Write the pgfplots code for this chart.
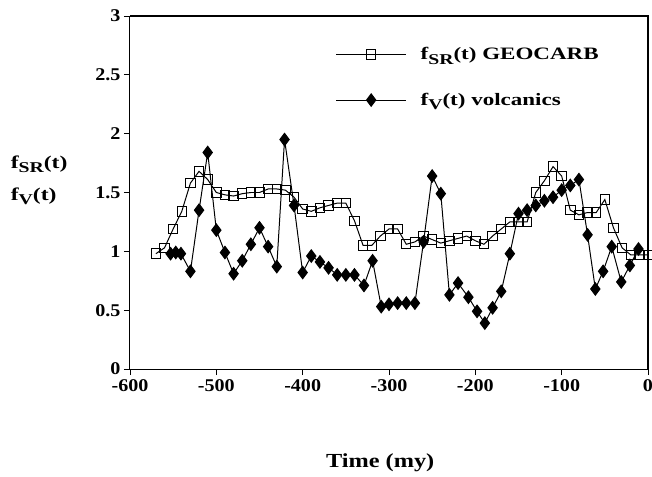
\documentclass[border=0pt]{standalone}
\usepackage{fontspec}
\setmainfont{Liberation Serif}
\newfontfamily\tickfont{Liberation Serif}[FakeStretch=1.12]
\newfontfamily\legfont{Liberation Serif}[FakeStretch=1.32]
\newfontfamily\labfont{Liberation Serif}[FakeStretch=1.22]
\newcommand{\sub}[1]{\raisebox{-4.5bp}{\fontsize{15}{15}\selectfont #1}}
\usepackage{pgfplots}
\pgfplotsset{compat=1.18}
\begin{document}
\begin{tikzpicture}
\begin{axis}[
  at={(0,0)}, anchor=south west,
  scale only axis, width=518bp, height=353bp,
  xmin=-600, xmax=0, ymin=0, ymax=3,
  xtick={-600,-500,-400,-300,-200,-100,0},
  xticklabels={-600,-500,-400,-300,-200,-100,0},
  ytick={0,0.5,1,1.5,2,2.5,3},
  yticklabels={0,0.5,1,1.5,2,2.5,3},
  tick align=outside, xtick pos=bottom, ytick pos=left,
  major tick length=6bp,
  tick style={black, line width=0.8pt},
  axis line style={black, line width=1pt},
  tick label style={font=\tickfont\fontsize{18}{18}\selectfont\bfseries},
  xticklabel style={yshift=-1bp},
  xlabel={Time (my)},
  xlabel style={font=\labfont\fontsize{20}{20}\selectfont\bfseries, at={(axis description cs:0.483,-0.266)}, anchor=center},
  ylabel={f\sub{SR}(t)\\f\sub{V}(t)},
  ylabel style={font=\legfont\fontsize{18}{32}\selectfont\bfseries, rotate=-90, align=left, at={(axis description cs:-0.237,0.535)}, anchor=west},
  legend style={draw=none, fill=none, at={(axis cs:-362,2.48)}, anchor=west, font=\legfont\fontsize{17.5}{17.5}\selectfont\bfseries, row sep=28bp, inner sep=0pt,
    /tikz/every odd column/.append style={column sep=12bp}},
  legend cell align=left,
  legend image code/.code={\draw[#1, mark repeat=2, mark phase=2] plot coordinates {(0bp,0bp) (35bp,0bp) (70bp,0bp)};},
]
\addplot[black, line width=1pt, mark=square, mark size=4.7bp, mark options={fill=white, solid, line width=1pt}] coordinates {
(-570,0.98) (-560,1.03) (-550,1.19) (-540,1.34) (-530,1.58) (-520,1.68) (-510,1.61)
(-500,1.50) (-490,1.48) (-480,1.47) (-470,1.49) (-460,1.50) (-450,1.50) (-440,1.53)
(-430,1.53) (-420,1.52) (-410,1.46) (-400,1.36) (-390,1.34) (-380,1.37) (-370,1.39)
(-360,1.41) (-350,1.41) (-340,1.26) (-330,1.05) (-320,1.05) (-310,1.13) (-300,1.19)
(-290,1.19) (-280,1.06) (-270,1.08) (-260,1.13) (-250,1.10) (-240,1.07) (-230,1.09)
(-220,1.11) (-210,1.13) (-200,1.09) (-190,1.06) (-180,1.13) (-170,1.19) (-160,1.25)
(-150,1.25) (-140,1.25) (-130,1.50) (-120,1.60) (-110,1.72) (-100,1.64) (-90,1.35)
(-80,1.31) (-70,1.33) (-60,1.33) (-50,1.44) (-40,1.20) (-30,1.03) (-20,0.97)
(-10,0.97) (0,0.97)
};
\addlegendentry{f\sub{SR}(t) GEOCARB}
\addplot[black, line width=1pt, mark=diamond*, mark size=6.2bp, mark options={fill=black, solid}] coordinates {
(-553,0.98) (-547,0.99) (-541,0.98) (-530,0.83) (-520,1.35) (-510,1.84) (-500,1.18)
(-490,0.99) (-480,0.81) (-470,0.92) (-460,1.06) (-450,1.20) (-440,1.04) (-430,0.87)
(-421,1.95) (-410,1.39) (-400,0.82) (-390,0.96) (-380,0.91) (-370,0.86) (-360,0.80)
(-350,0.80) (-340,0.80) (-329,0.71) (-319,0.92) (-309,0.53) (-300,0.55) (-290,0.56)
(-280,0.56) (-270,0.56) (-260,1.08) (-250,1.64) (-240,1.49) (-230,0.63) (-220,0.73)
(-208,0.61) (-198,0.49) (-189,0.39) (-180,0.52) (-170,0.66) (-160,0.98) (-150,1.32)
(-140,1.35) (-130,1.39) (-120,1.43) (-110,1.46) (-100,1.52) (-90,1.56) (-80,1.61)
(-70,1.14) (-61,0.68) (-52,0.83) (-42,1.04) (-31,0.74) (-21,0.88) (-11,1.02)
};
\addlegendentry{f\sub{V}(t) volcanics}
\end{axis}
\draw[black, line width=1.2pt] (current axis.north west) -- (current axis.north east) -- (current axis.south east);
\pgfresetboundingbox
\path[use as bounding box] (-130bp,-108bp) rectangle (522bp,369bp);
\end{tikzpicture}
\end{document}
